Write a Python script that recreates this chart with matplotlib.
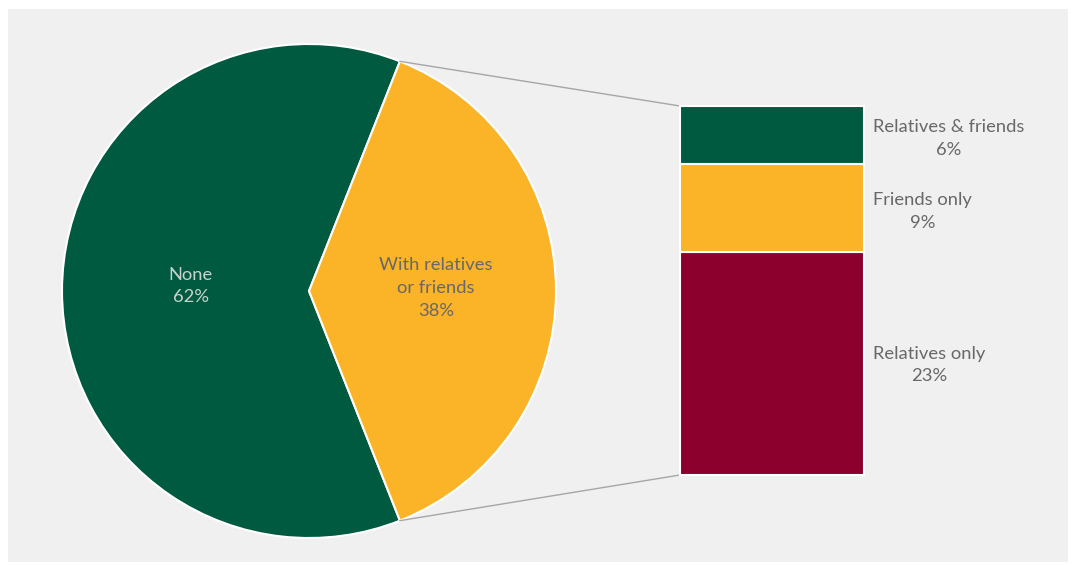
import numpy as np
import matplotlib.pyplot as plt
from matplotlib.patches import Rectangle

# --- data -------------------------------------------------------------
pie_labels = ["None", "With relatives\nor friends"]
pie_values = [62, 38]
pie_colors = ["#005a3f", "#fbb327"]

bar_labels = ["Relatives only", "Friends only", "Relatives & friends"]  # bottom -> top
bar_values = [23, 9, 6]
bar_colors = ["#8c002d", "#fbb327", "#005a3f"]

# --- layout (figure pixels, y measured from the bottom) ----------------
W, H = 1073, 565
pie_cx, pie_cy, pie_r = 309, 274, 247
bar_x, bar_w = 680, 184
bar_y0, bar_y1 = 90, 459
txt_grey = "#686868"
fs = 13.2

plt.rcParams['font.family'] = ['Lato', 'DejaVu Sans']

fig = plt.figure(figsize=(W / 100, H / 100), dpi=100)
fig.patch.set_facecolor("white")
ax = fig.add_axes([0, 0, 1, 1])

# panel background
ax.add_patch(Rectangle((8, 3), W - 13, H - 12, facecolor="#f0f0f0",
                       edgecolor="none", zorder=0))

# --- pie ----------------------------------------------------------------
other_share = pie_values[1] / sum(pie_values)
start = 360 * other_share / 2
wedges, _ = ax.pie(pie_values, colors=pie_colors, startangle=start,
                   center=(pie_cx, pie_cy), radius=pie_r, counterclock=True,
                   wedgeprops=dict(edgecolor="white", linewidth=1.5),
                   frame=True)
ax.set_xlim(0, W)
ax.set_ylim(0, H)
ax.set_aspect("equal")
ax.axis("off")

ax.text(191, H - 286, pie_labels[0] + "\n%d%%" % pie_values[0], ha="center",
        va="center", color="#c8d2cc", fontsize=fs, linespacing=1.5)
ax.text(436, H - 288, pie_labels[1] + "\n%d%%" % pie_values[1], ha="center",
        va="center", color=txt_grey, fontsize=fs, linespacing=1.5)

# --- stacked bar ----------------------------------------------------------
scale = (bar_y1 - bar_y0) / sum(bar_values)
bottoms = np.concatenate([[0], np.cumsum(bar_values)[:-1]])
heights = np.array(bar_values) * scale
ax.bar([bar_x + bar_w / 2] * len(bar_values), heights, width=bar_w,
       bottom=bar_y0 + bottoms * scale, color=bar_colors,
       edgecolor="white", linewidth=1.5, zorder=2)

label_y = [H - 365, H - 211.5, H - 138.5]
for lab, val, ly in zip(bar_labels, bar_values, label_y):
    ax.text(873, ly, lab + "\n%d%%" % val, ha="left", va="center",
            multialignment="center", color=txt_grey, fontsize=fs,
            linespacing=1.5)

# --- connector lines ------------------------------------------------------
theta = np.deg2rad(start)
ex, ey = pie_cx + pie_r * np.cos(theta), pie_r * np.sin(theta)
ax.plot([ex, bar_x], [pie_cy + ey, bar_y1], color="#a6a6a6", lw=1, zorder=1)
ax.plot([ex, bar_x], [pie_cy - ey, bar_y0], color="#a6a6a6", lw=1, zorder=1)

fig.savefig("out.png", dpi=100, facecolor=fig.get_facecolor())
